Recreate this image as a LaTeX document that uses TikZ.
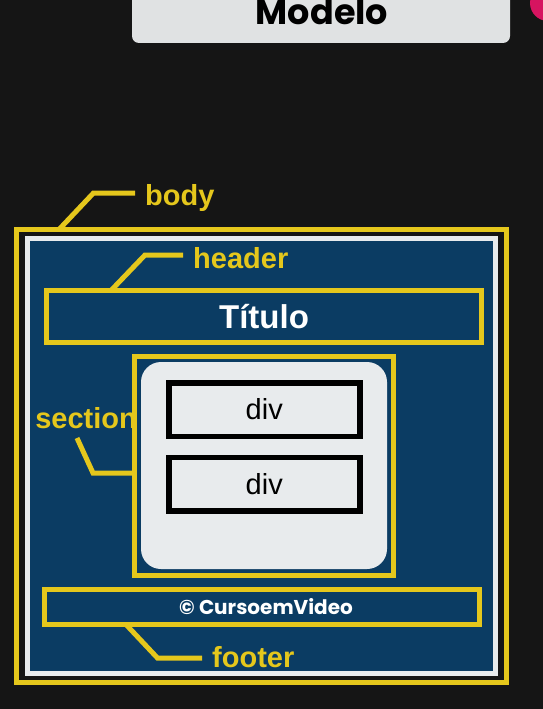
\documentclass[tikz,border=0pt]{standalone}
\usepackage{fontspec}
\setmainfont{Liberation Sans}
\newfontfamily\modelofont{Poppins}
\usetikzlibrary{calc}

\definecolor{fundo}{RGB}{21,21,21}
\definecolor{azul}{RGB}{11,60,99}
\definecolor{amarelo}{RGB}{229,199,28}
\definecolor{cinza}{RGB}{232,235,237}
\definecolor{cinzamodelo}{RGB}{224,226,227}
\definecolor{rosa}{RGB}{214,20,96}

\tikzset{
  caixa/.style={draw=amarelo, line width=5pt, fill=azul, inner sep=0pt},
  caixadiv/.style={draw=black, line width=5.5pt, fill=cinza, inner sep=0pt,
    minimum width=191pt, minimum height=53.5pt, font=\fontsize{29}{31}\selectfont},
  rotulo/.style={text=amarelo, inner ysep=0pt, inner xsep=10pt,
    font=\bfseries\fontsize{29}{31}\selectfont},
  guia/.style={draw=amarelo, line width=5pt},
}

\begin{document}
\begin{tikzpicture}[x=1pt, y=-1pt]
\useasboundingbox (0,0) rectangle (543,709);
\fill[fundo] (0,0) rectangle (543,709);

% topo
\fill[rosa] (548,3) circle (18pt);
\node[fill=cinzamodelo, rounded corners=7pt, minimum width=378pt, minimum height=63pt] (modelo) at (321,11.5) {};
\node[font=\modelofont\bfseries\fontsize{35}{37}\selectfont, inner sep=0pt] (modelotxt) at (322,12) {Modelo};

% body
\node[caixa, fill=none, minimum width=490pt, minimum height=453pt] (body) at (261.5,456) {};
\fill[cinza] (25,236) rectangle (498,676);
\fill[azul] (30,241) rectangle (493,671);

% header
\node[caixa, minimum width=435pt, minimum height=52pt, text=white,
  font=\bfseries\fontsize{33}{35}\selectfont] (header) at (264,316.5) {\raisebox{-1pt}{Título}};

% section
\node[rotulo, anchor=east, inner xsep=0pt] (sectionlbl) at (137,418) {section};
\node[caixa, minimum width=259pt, minimum height=219pt] (section) at (264,466) {};
\fill[cinza, rounded corners=20pt] (141,362) rectangle (387,569);
\node[caixadiv] (div1) at (264.25,409.5) {div};
\node[caixadiv] (div2) at (264.25,484) {div};

% footer
\node[caixa, minimum width=435pt, minimum height=35pt, text=white,
  font=\modelofont\bfseries\fontsize{20}{22}\selectfont] (footer) at (262,607) {\hspace{8pt}© CursoemVideo};

% rotulos
\node[rotulo, anchor=west] (bodylbl) at (135,198) {body};
\node[rotulo, anchor=west] (headerlbl) at (183,258) {header};
\node[rotulo, anchor=west] (footerlbl) at (202,657) {footer};

\coordinate (bodype) at (59,229.5);
\coordinate (bodydobra) at (93.5,193);
\coordinate (headerpe) at (111,290.5);
\coordinate (headerdobra) at (145,255);
\coordinate (sectionpe) at (77,438);
\coordinate (sectiondobra) at (93,473);
\coordinate (footerpe) at (126,624.5);
\coordinate (footerdobra) at (157.5,658);

\draw[guia] (bodype) -- (bodydobra) -- (bodydobra -| bodylbl.west);
\draw[guia] (headerpe) -- (headerdobra) -- (headerdobra -| headerlbl.west);
\draw[guia] (sectionpe) -- (sectiondobra) -- (sectiondobra -| section.west);
\draw[guia] (footerpe) -- (footerdobra) -- (footerdobra -| footerlbl.west);
\end{tikzpicture}
\end{document}
